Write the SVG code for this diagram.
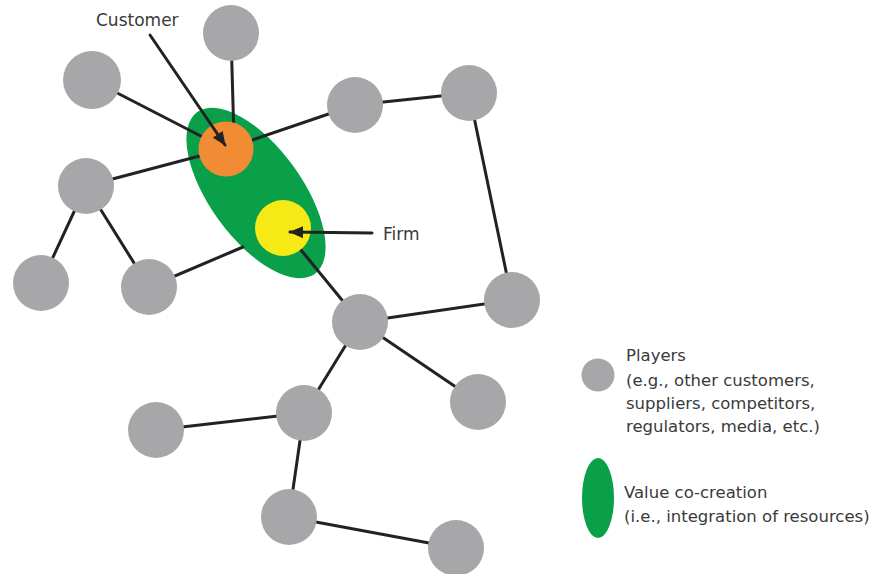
<svg xmlns="http://www.w3.org/2000/svg" width="876" height="574" viewBox="0 0 876 574">
<style>
.player{fill:#a7a7a9}
.link{stroke:#222;stroke-width:3;fill:none;stroke-linecap:round}
.lbl{font-family:"DejaVu Sans",sans-serif;font-size:17px;fill:#3a3a3a}
.leg{font-family:"DejaVu Sans",sans-serif;font-size:16.5px;fill:#3a3a3a}
</style>
<defs>
<marker id="ah" markerUnits="userSpaceOnUse" markerWidth="14" markerHeight="12" refX="13" refY="6" orient="auto">
<path d="M0,0 L14,6 L0,12 Z" fill="#222"/>
</marker>
</defs>
<rect width="876" height="574" fill="#fff"/>
<g id="value-cocreation">
<ellipse cx="256" cy="193" rx="46" ry="100" transform="rotate(-36 256 193)" fill="#0aa04a"/>
</g>
<g id="connectors">
<line class="link" x1="92" y1="80" x2="226" y2="149"/>
<line class="link" x1="231" y1="33" x2="234" y2="140"/>
<line class="link" x1="226" y1="149" x2="355" y2="105"/>
<line class="link" x1="86" y1="186" x2="226" y2="149"/>
<line class="link" x1="86" y1="186" x2="41" y2="283"/>
<line class="link" x1="86" y1="186" x2="149" y2="287"/>
<line class="link" x1="149" y1="287" x2="243" y2="247"/>
<line class="link" x1="355" y1="105" x2="469" y2="93"/>
<line class="link" x1="469" y1="93" x2="512" y2="300"/>
<line class="link" x1="283" y1="228" x2="360" y2="322"/>
<line class="link" x1="360" y1="322" x2="512" y2="300"/>
<line class="link" x1="360" y1="322" x2="304" y2="413"/>
<line class="link" x1="360" y1="322" x2="478" y2="402"/>
<line class="link" x1="156" y1="430" x2="304" y2="413"/>
<line class="link" x1="304" y1="413" x2="289" y2="517"/>
<line class="link" x1="289" y1="517" x2="456" y2="548"/>
</g>
<g id="nodeA"><circle class="player" cx="231" cy="33" r="28"/></g>
<g id="nodeB"><circle class="player" cx="92" cy="80" r="29"/></g>
<g id="nodeC"><circle class="player" cx="355" cy="105" r="28"/></g>
<g id="nodeD"><circle class="player" cx="469" cy="93" r="28"/></g>
<g id="nodeE"><circle class="player" cx="86" cy="186" r="28"/></g>
<g id="nodeF"><circle class="player" cx="41" cy="283" r="28"/></g>
<g id="nodeG"><circle class="player" cx="149" cy="287" r="28"/></g>
<g id="nodeH"><circle class="player" cx="512" cy="300" r="28"/></g>
<g id="nodeI"><circle class="player" cx="360" cy="322" r="28"/></g>
<g id="nodeJ"><circle class="player" cx="478" cy="402" r="28"/></g>
<g id="nodeK"><circle class="player" cx="304" cy="413" r="28"/></g>
<g id="nodeL"><circle class="player" cx="156" cy="430" r="28"/></g>
<g id="nodeM"><circle class="player" cx="289" cy="517" r="28"/></g>
<g id="nodeN"><circle class="player" cx="456" cy="548" r="28"/></g>
<g id="customer"><circle cx="226" cy="149" r="27.5" fill="#f28c34"/></g>
<g id="firm"><circle cx="283" cy="228" r="28" fill="#f6ea16"/></g>
<g id="labels">
<text class="lbl" x="96" y="26">Customer</text>
<line class="link" x1="150" y1="35" x2="225" y2="145" marker-end="url(#ah)"/>
<text class="lbl" x="383" y="240">Firm</text>
<line class="link" x1="372" y1="233" x2="290" y2="232" marker-end="url(#ah)"/>
</g>
<g id="legend">
<circle class="player" cx="598" cy="375" r="16.5"/>
<text class="leg" x="626" y="361">Players</text>
<text class="leg" x="626" y="386">(e.g., other customers,</text>
<text class="leg" x="626" y="409">suppliers, competitors,</text>
<text class="leg" x="626" y="432">regulators, media, etc.)</text>
<ellipse cx="598" cy="498" rx="16" ry="40" fill="#0aa04a"/>
<text class="leg" x="624" y="498">Value co-creation</text>
<text class="leg" x="624" y="522">(i.e., integration of resources)</text>
</g>
</svg>
